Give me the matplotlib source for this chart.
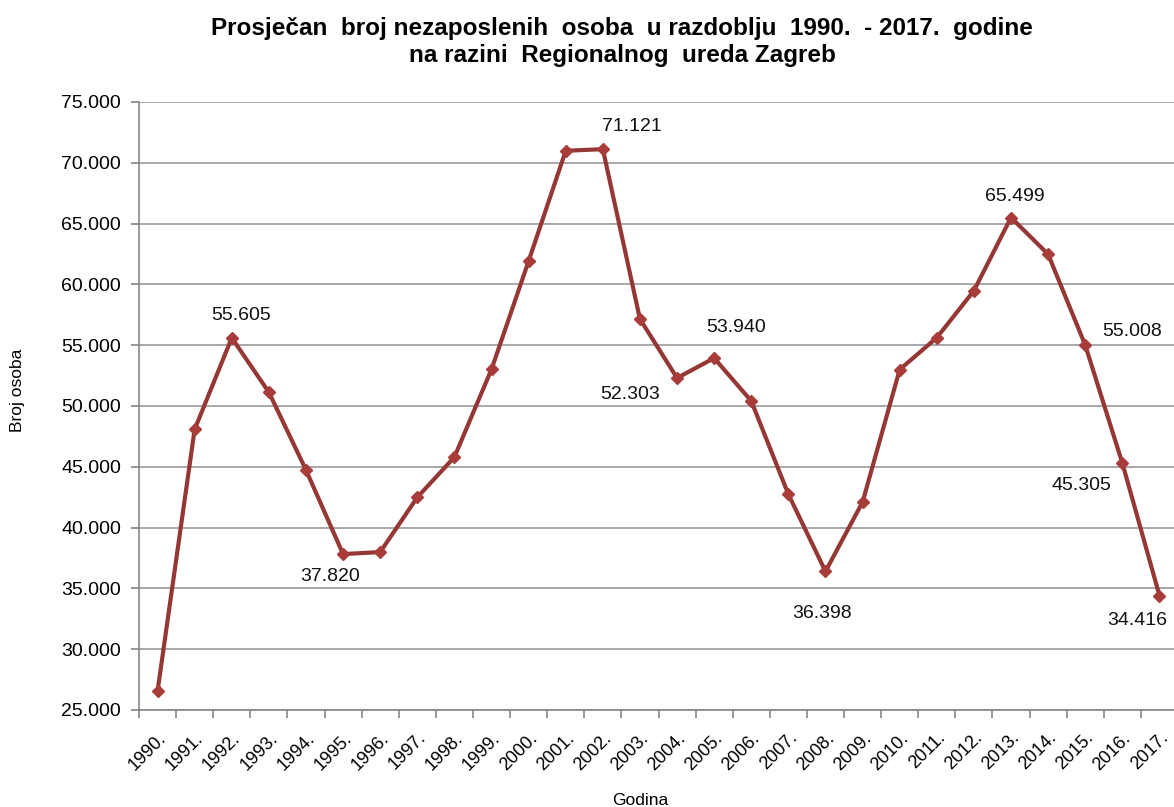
import matplotlib.pyplot as plt
import matplotlib.ticker as mticker

plt.rcParams['font.family'] = ['Liberation Sans', 'DejaVu Sans']

# data
years = [str(y) + '.' for y in range(1990, 2018)]
values = [26550, 48080, 55605, 51130, 44740, 37820, 37990, 42490, 45800, 53020,
          61920, 70990, 71121, 57150, 52303, 53940, 50410, 42740, 36398, 42100,
          53000, 55620, 59480, 65499, 62480, 55008, 45305, 34416]

# which points carry a value label, and where the label sits (pixels from the point)
label_offsets = {
    '1992.': (9, 22), '1995.': (-13, -22), '2002.': (29, 23), '2004.': (-47, -17),
    '2005.': (22, 31), '2008.': (-3, -42), '2013.': (4, 21), '2015.': (47, 14),
    '2016.': (-41, -22), '2017.': (-22, -25),
}

def fmt_thousands(v):
    return f'{v:,.0f}'.replace(',', '.')

fig = plt.figure(figsize=(11.74, 8.07), dpi=100)
W, H = 1174, 807
ax = fig.add_axes([139 / W, 97 / H, 1039 / W, 608 / H])

x = list(range(len(years)))
ax.plot(x, values, color='#953735', lw=3, marker='D', ms=6,
        mfc='#A83C3A', mec='#A83C3A', zorder=3, clip_on=False)

for i, yr in enumerate(years):
    if yr in label_offsets:
        dx, dy = label_offsets[yr]
        ax.annotate(fmt_thousands(values[i]), (i, values[i]), xytext=(dx, dy),
                    textcoords='offset pixels', ha='center', va='center',
                    fontsize=14, color='#111111')

ax.set_ylim(25000, 75000)
ax.set_xlim(-0.5, len(years) - 0.5)
ax.yaxis.set_major_locator(mticker.MultipleLocator(5000))
ax.yaxis.set_major_formatter(mticker.FuncFormatter(lambda v, p: fmt_thousands(v)))
ax.grid(axis='y', color='#9a9a9a', lw=1.2)
ax.set_axisbelow(True)

# ticks on category boundaries, labels on category centres
ax.set_xticks([i - 0.5 for i in x])
ax.set_xticklabels([])
ax.set_xticks(x, minor=True)
ax.set_xticklabels(years, minor=True, rotation=45, ha='right', va='top',
                   rotation_mode='anchor', fontsize=13)
ax.tick_params(axis='x', which='minor', length=0, pad=14)
ax.tick_params(axis='x', which='major', length=6, color='#868686', width=1.2)
ax.tick_params(axis='y', length=6, color='#868686', width=1.2, labelsize=14, pad=7)

for s in ['top', 'right']:
    ax.spines[s].set_visible(False)
for s in ['left', 'bottom']:
    ax.spines[s].set_color('#868686')
    ax.spines[s].set_linewidth(1.2)

fig.text(622 / W, 1 - 42 / H,
         'Prosječan  broj nezaposlenih  osoba  u razdoblju  1990.  - 2017.  godine\n'
         'na razini  Regionalnog  ureda Zagreb',
         ha='center', va='center', fontsize=17.5, fontweight='bold', linespacing=1.25)
fig.text(18 / W, 1 - 390 / H, 'Broj osoba', rotation=90, ha='center', va='center', fontsize=12.5)
fig.text(640 / W, 1 - 793 / H, 'Godina', ha='center', va='top', fontsize=12.5)

fig.savefig('out.png', dpi=100)
